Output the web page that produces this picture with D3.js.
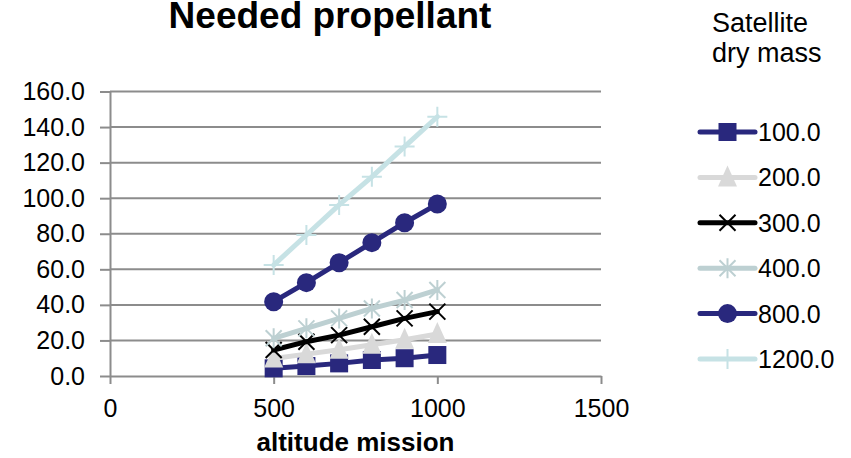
<!DOCTYPE html>
<html>
<head>
<meta charset="utf-8">
<script src="https://cdn.jsdelivr.net/npm/d3@7"></script>
<style>
  html, body { margin: 0; padding: 0; background: #fff; }
  svg { display: block; font-family: "Liberation Sans", Arial, sans-serif; }
</style>
</head>
<body>
<svg id="chart" width="851" height="458"></svg>
<script>
// data
var altitudes = [500, 600, 700, 800, 900, 1000];
var massLabels = ["100.0", "200.0", "300.0", "400.0", "800.0", "1200.0"];
var prop100 = [4.3, 5.6, 7.1, 9.0, 10.0, 11.8];
var prop200 = [9.8, 12.3, 14.8, 17.6, 20.4, 23.6];
var prop300 = [14.6, 19.3, 23.0, 27.7, 32.4, 36.2];
var prop400 = [21.2, 26.8, 32.4, 38.0, 42.7, 48.4];
var prop800 = [41.8, 52.5, 63.7, 75.0, 86.2, 96.7];
var prop1200 = [62.4, 79.3, 96.2, 112.0, 129.0, 145.8];
var yTicks = [0, 20, 40, 60, 80, 100, 120, 140, 160];
var xTicks = [0, 500, 1000, 1500];
var limitValue = 28.6;     // dashed reference line
var limitEnd = 1732;       // it runs past the plot, into the legend gap

var navy = "#29287d";
var styles = [
  { color: navy,      marker: "square" },
  { color: "#d9d9d9", marker: "triangle" },
  { color: "#000000", marker: "times" },
  { color: "#bdd0d2", marker: "asterisk" },
  { color: navy,      marker: "circle" },
  { color: "#c6e2e5", marker: "plus" }
];
var allValues = [prop100, prop200, prop300, prop400, prop800, prop1200];
var series = massLabels.map(function (name, i) {
  return {
    name: name,
    style: styles[i],
    values: altitudes.map(function (a, j) { return [a, allValues[i][j]]; })
  };
});

var svg = d3.select("#chart");
var plot = { left: 110, right: 601, top: 91.5, bottom: 376 };

var x = d3.scaleLinear().domain([0, 1500]).range([plot.left, plot.right]);
var y = d3.scaleLinear().domain([0, 160]).range([plot.bottom, plot.top]);

var defs = svg.append("defs");
var shadow = defs.append("filter").attr("id", "shadow")
  .attr("x", "-5%").attr("y", "-200%").attr("width", "110%").attr("height", "500%");
shadow.append("feDropShadow")
  .attr("dx", 0).attr("dy", 3).attr("stdDeviation", 2.2)
  .attr("flood-color", "#000").attr("flood-opacity", 0.35);

// title
svg.append("text")
  .attr("x", 330).attr("y", 28)
  .attr("text-anchor", "middle")
  .style("font-size", "37px").style("font-weight", "bold")
  .text("Needed propellant");

// gridlines
svg.append("g").selectAll("line")
  .data(yTicks.filter(function (d) { return d > 0; }))
  .enter().append("line")
  .attr("x1", plot.left).attr("x2", plot.right)
  .attr("y1", function (d) { return y(d); })
  .attr("y2", function (d) { return y(d); })
  .attr("stroke", "#8c8c8c").attr("stroke-width", 2);

var yAxis = d3.axisLeft(y).tickValues(yTicks)
  .tickFormat(d3.format(".1f")).tickSize(10).tickSizeOuter(0).tickPadding(15);
var xAxis = d3.axisBottom(x).tickValues(xTicks)
  .tickFormat(d3.format("d")).tickSize(8).tickSizeOuter(0).tickPadding(15);

function styleAxis(g) {
  g.select(".domain").attr("stroke", "#8c8c8c").attr("stroke-width", 2);
  g.selectAll(".tick line").attr("stroke", "#8c8c8c").attr("stroke-width", 2);
  g.selectAll(".tick text")
    .attr("fill", "#000")
    .style("font-size", "25px")
    .style("font-family", "'Liberation Sans', Arial, sans-serif");
}

svg.append("g")
  .attr("transform", "translate(" + plot.left + ",0)")
  .call(yAxis).call(styleAxis);
svg.append("g")
  .attr("transform", "translate(0," + plot.bottom + ")")
  .call(xAxis).call(styleAxis);

svg.append("text")
  .attr("x", (plot.left + plot.right) / 2).attr("y", 451)
  .attr("text-anchor", "middle")
  .style("font-size", "26px").style("font-weight", "bold")
  .text("altitude mission");

// marker drawing
function drawMarker(g, kind, color) {
  if (kind === "square") {
    g.append("rect").attr("x", -9).attr("y", -9).attr("width", 18).attr("height", 18)
      .attr("fill", color);
  } else if (kind === "circle") {
    g.append("circle").attr("r", 9.5).attr("fill", color);
  } else if (kind === "triangle") {
    g.append("path").attr("d", "M0,-12L9.5,9L-9.5,9Z").attr("fill", color);
  } else if (kind === "times") {
    g.append("path").attr("d", "M-8,-8L8,8M-8,8L8,-8")
      .attr("stroke", color).attr("stroke-width", 2).attr("fill", "none");
  } else if (kind === "asterisk") {
    g.append("path").attr("d", "M-8,-8L8,8M-8,8L8,-8M0,-10L0,10")
      .attr("stroke", color).attr("stroke-width", 2).attr("fill", "none");
  } else if (kind === "plus") {
    g.append("path").attr("d", "M-10,0L10,0M0,-10L0,10")
      .attr("stroke", color).attr("stroke-width", 2).attr("fill", "none");
  }
}

var line = d3.line()
  .x(function (d) { return x(d[0]); })
  .y(function (d) { return y(d[1]); });

var seriesGroups = svg.append("g").selectAll("g")
  .data(series)
  .enter().append("g");

seriesGroups.append("path")
  .attr("d", function (d) { return line(d.values); })
  .attr("fill", "none")
  .attr("stroke", function (d) { return d.style.color; })
  .attr("stroke-width", 5)
  .attr("stroke-linejoin", "round")
  .attr("stroke-linecap", "round");

seriesGroups.each(function (s) {
  var grp = d3.select(this);
  s.values.forEach(function (v) {
    var m = grp.append("g")
      .attr("transform", "translate(" + x(v[0]) + "," + y(v[1]) + ")");
    drawMarker(m, s.style.marker, s.style.color);
  });
});

// dashed reference line
svg.append("line")
  .attr("x1", x(0)).attr("x2", x(limitEnd))
  .attr("y1", y(limitValue)).attr("y2", y(limitValue))
  .attr("stroke", "#000").attr("stroke-width", 6)
  .attr("stroke-dasharray", "22,15.3")
  .attr("filter", "url(#shadow)");

// legend
svg.append("text")
  .attr("x", 712).attr("y", 32)
  .style("font-size", "27px")
  .text("Satellite");
svg.append("text")
  .attr("x", 712).attr("y", 62)
  .style("font-size", "27px")
  .text("dry mass");

var legend = svg.append("g").selectAll("g")
  .data(series)
  .enter().append("g")
  .attr("transform", function (d, i) { return "translate(0," + (132 + i * 45.4) + ")"; });

legend.append("line")
  .attr("x1", 700).attr("x2", 755)
  .attr("stroke", function (d) { return d.style.color; })
  .attr("stroke-width", 5)
  .attr("stroke-linecap", "round");
legend.each(function (s) {
  var m = d3.select(this).append("g").attr("transform", "translate(727.5,0)");
  drawMarker(m, s.style.marker, s.style.color);
});
legend.append("text")
  .attr("x", 758).attr("y", 9)
  .style("font-size", "25px")
  .text(function (d) { return d.name; });
</script>
</body>
</html>
